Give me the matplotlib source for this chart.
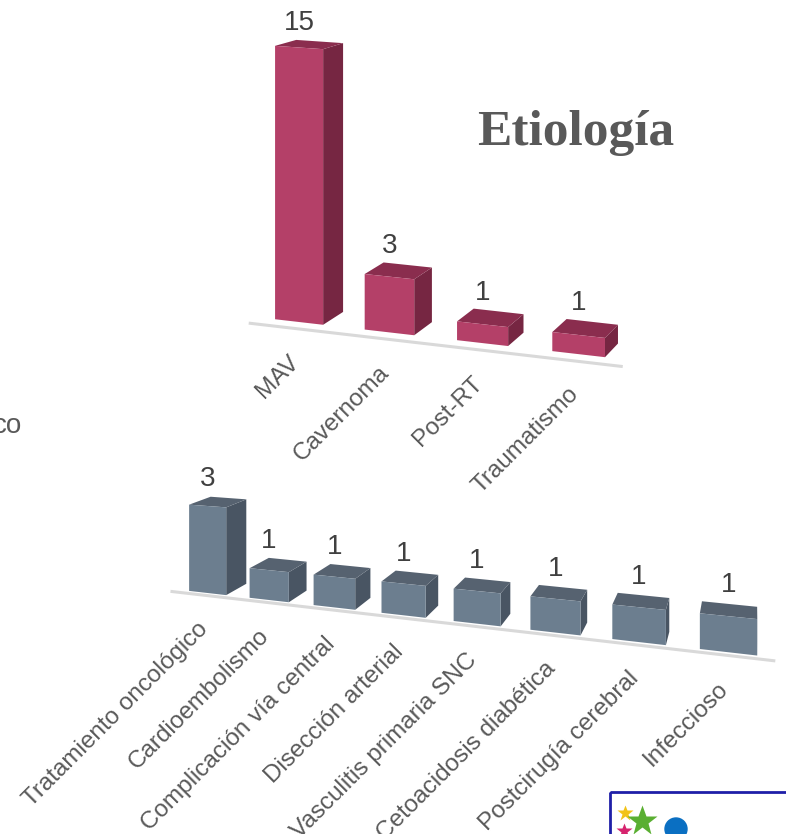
import numpy as np
import matplotlib.pyplot as plt
from matplotlib.patches import Polygon, Rectangle, Circle

# --- data ---
hem_labels = ["MAV", "Cavernoma", "Post-RT", "Traumatismo"]
hem_counts = [15, 3, 1, 1]

isq_labels = ["Tratamiento oncológico", "Cardioembolismo", "Complicación vía central",
              "Disección arterial", "Vasculitis primaria SNC", "Cetoacidosis diabética",
              "Postcirugía cerebral", "Infeccioso"]
isq_counts = [3, 1, 1, 1, 1, 1, 1, 1]

plt.rcParams['font.family'] = ['Liberation Sans', 'DejaVu Sans']

fig = plt.figure(figsize=(7.86, 8.34), dpi=100)
ax = fig.add_axes([0, 0, 1, 1])
ax.set_xlim(0, 786)
ax.set_ylim(834, 0)
ax.axis('off')


def make_proj(x0, a, y0, s, k, p):
    # simple perspective mapping: category u, value v -> canvas
    def proj(u, v):
        w = 1 + p * u
        return (x0 + a * u) / w, (y0 + s * u - k * v) / w
    return proj


def draw_chart(labels, counts, proj, width, vp, depth, colors, line_u, line_v, drop):
    front_c, top_c, side_c = colors

    def back(pt):
        return (pt[0] + depth * (vp[0] - pt[0]), pt[1] + depth * (vp[1] - pt[1]))

    # floor line
    lx, ly = proj(np.array(line_u), line_v)
    ax.plot(lx, ly, color='#d9d9d9', lw=2.2, solid_capstyle='butt', zorder=1)

    for i, (lab, c) in enumerate(zip(labels, counts)):
        fl = proj(i - width / 2, 0)
        fr = proj(i + width / 2, 0)
        tl = proj(i - width / 2, c)
        tr = proj(i + width / 2, c)
        side = [fr, tr, back(tr), back(fr)]
        top = [tl, tr, back(tr), back(tl)]
        front = [fl, fr, tr, tl]
        ax.add_patch(Polygon(side, closed=True, fc=side_c, ec='none', zorder=2))
        ax.add_patch(Polygon(top, closed=True, fc=top_c, ec='none', zorder=3))
        ax.add_patch(Polygon(front, closed=True, fc=front_c, ec='none', zorder=4))

        cx, cy = proj(i, c)
        bx, by = back((cx, cy))
        ax.annotate(str(c), (cx, by), xytext=(0, 4), textcoords='offset points',
                    ha='center', va='bottom', fontsize=20, color='#404040')

        gx, gy = proj(i, 0)
        ax.text(gx - 3, gy + drop, lab, rotation=45, rotation_mode='anchor',
                ha='right', va='center', fontsize=17.5, color='#595959')


# top chart (hemorrágico)
proj_h = make_proj(299, 84.5, 322, 5.4, 18.3, -0.015)
draw_chart(hem_labels, hem_counts, proj_h, 0.54, (1131, -195), 0.0247,
           ('#b44068', '#8a2d4e', '#762642'), [-0.57, 3.45], -0.38, 37)

# bottom chart (isquémico)
proj_i = make_proj(207.5, 54.0, 593, -9.8, 29, -0.028)
draw_chart(isq_labels, isq_counts, proj_i, 0.62, (755, 296), 0.038,
           ('#6c7e8f', '#566270', '#495563'), [-0.63, 7.5], -0.09, 33)

# title
ax.text(575.5, 145, "Etiología", ha='center', va='baseline', fontsize=37,
        fontweight='bold', family=['Liberation Serif', 'DejaVu Serif'], color='#595959')

# cut-off text on the left edge
ax.text(22, 433, "co", ha='right', va='baseline', fontsize=20, color='#595959')

# logo box at bottom right
ax.add_patch(Rectangle((610, 792), 200, 60, fill=False, ec='#1f1fa8', lw=2, zorder=5))
ax.plot([625], [813], marker='*', ms=12, color='#f2c318', mec='none', zorder=6)
ax.plot([642], [821], marker='*', ms=23, color='#5aaf32', mec='none', zorder=6)
ax.plot([624], [831], marker='*', ms=12, color='#d6246e', mec='none', zorder=6)
ax.add_patch(Circle((676, 829), 11, color='#0a6fc2', zorder=6))

fig.savefig('out.png', dpi=100)
